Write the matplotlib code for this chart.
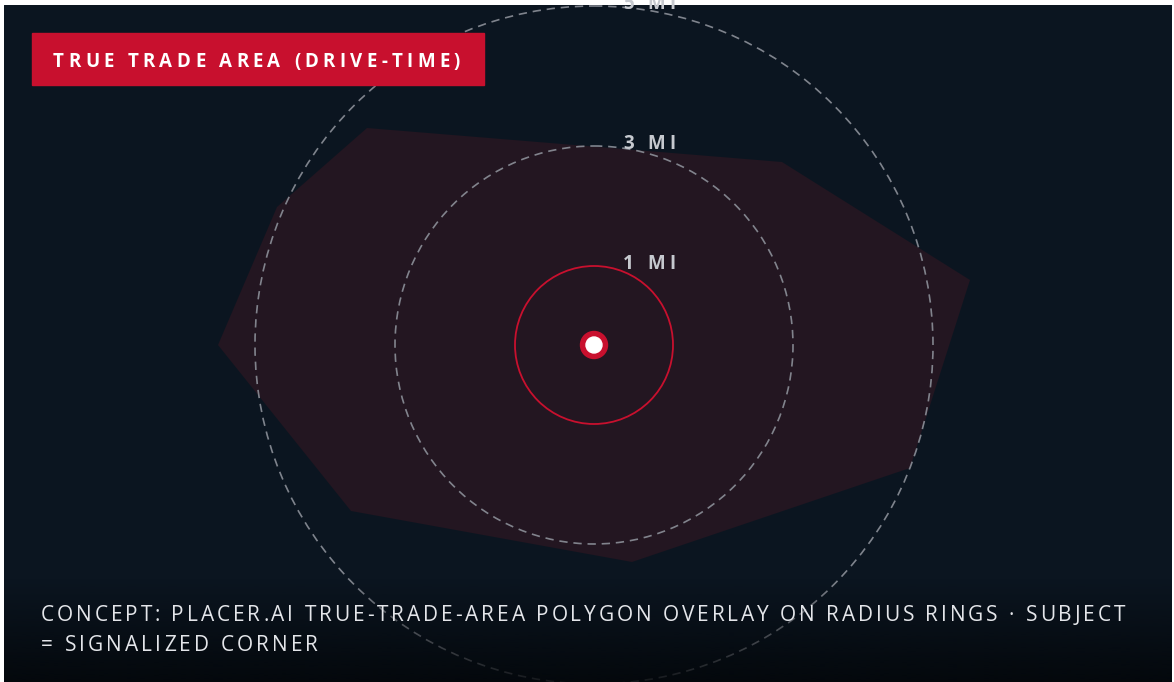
import matplotlib
matplotlib.use("Agg")
import matplotlib.pyplot as plt
from matplotlib.patches import Circle, Polygon, Rectangle
import numpy as np

# center of the subject site (plot units = pixels)
site = (594, 345)

# radius rings
ring_labels = ["1 MI", "3 MI", "5 MI"]
ring_radii = [79, 199, 339]

# drive-time trade area polygon vertices
area_x = [367, 782, 970, 910, 632, 351, 218, 277]
area_y = [128, 162, 280, 468, 562, 511, 345, 207]

title = "TRUE TRADE AREA (DRIVE-TIME)"
footer_lines = [
    "CONCEPT: PLACER.AI TRUE-TRADE-AREA POLYGON OVERLAY ON RADIUS RINGS \u00b7 SUBJECT",
    "= SIGNALIZED CORNER",
]

BG = "#0b1520"
RED = "#c8102e"
FILL = "#231621"
RING = "#8c9099"

fig = plt.figure(figsize=(11.74, 6.82), dpi=100, facecolor="white")
ax = fig.add_axes([4 / 1174, 0, 1168 / 1174, 677 / 682])
ax.set_xlim(4, 1172)
ax.set_ylim(682, 5)
ax.set_facecolor(BG)
ax.axis("off")
ax.add_patch(Rectangle((4, 5), 1168, 677, color=BG, zorder=0))

renderer = fig.canvas.get_renderer()


def tracked_text(x, y, s, target_w, **kw):
    """Draw text char by char so it spans target_w pixels (letter spacing)."""
    def width(t):
        tt = ax.text(0, 0, t, **kw)
        w = tt.get_window_extent(renderer=renderer).width
        tt.remove()
        return w
    space = width("n n") - width("nn")
    adv = [space if c == " " else width(c) for c in s]
    track = (target_w - sum(adv)) / max(len(s) - 1, 1)
    for c, a in zip(s, adv):
        if c != " ":
            ax.text(x, y, c, ha="left", va="baseline", **kw)
        x += a + track
    return track


# trade area polygon
ax.add_patch(Polygon(list(zip(area_x, area_y)), closed=True,
                     facecolor=FILL, edgecolor="none", zorder=2))

# rings: inner solid red, outer dashed grey
for i, (lab, r) in enumerate(zip(ring_labels, ring_radii)):
    if i == 0:
        ax.add_patch(Circle(site, r, fill=False, edgecolor=RED, lw=1.3, zorder=3))
    else:
        ax.add_patch(Circle(site, r, fill=False, edgecolor=RING, lw=1.2,
                            linestyle=(0, (5, 3.5)), alpha=0.9, zorder=3))
    tracked_text(site[0] + 29, site[1] - r + 3, lab, 53, fontsize=13.5,
                 fontweight="bold", family="Open Sans", color="#c6c9cf", zorder=5)

# subject marker
ax.add_patch(Circle(site, 13.5, color=RED, zorder=6))
ax.add_patch(Circle(site, 8, color="white", zorder=7))

# bottom fade
n = 200
grad = np.zeros((n, 1, 4))
grad[:, 0, :3] = np.array([3, 6, 9]) / 255
grad[:, 0, 3] = np.linspace(0, 0.85, n)
ax.imshow(grad, extent=[4, 1172, 682, 578], aspect="auto", zorder=8,
          interpolation="bilinear")
ax.set_xlim(4, 1172)
ax.set_ylim(682, 5)

# title badge
ax.add_patch(Rectangle((32, 33), 452, 52, color=RED, zorder=9))
tracked_text(53, 67, title, 407, fontsize=13.5, fontweight="bold",
             family="Open Sans", color="white", zorder=10)

# footer caption
tracked_text(41, 621, footer_lines[0], 1084, fontsize=15,
             family="Open Sans", color="#e4e6ea", zorder=10)
tracked_text(41, 651, footer_lines[1], 277, fontsize=15,
             family="Open Sans", color="#e4e6ea", zorder=10)

fig.savefig("out.png", dpi=100, facecolor="white")
